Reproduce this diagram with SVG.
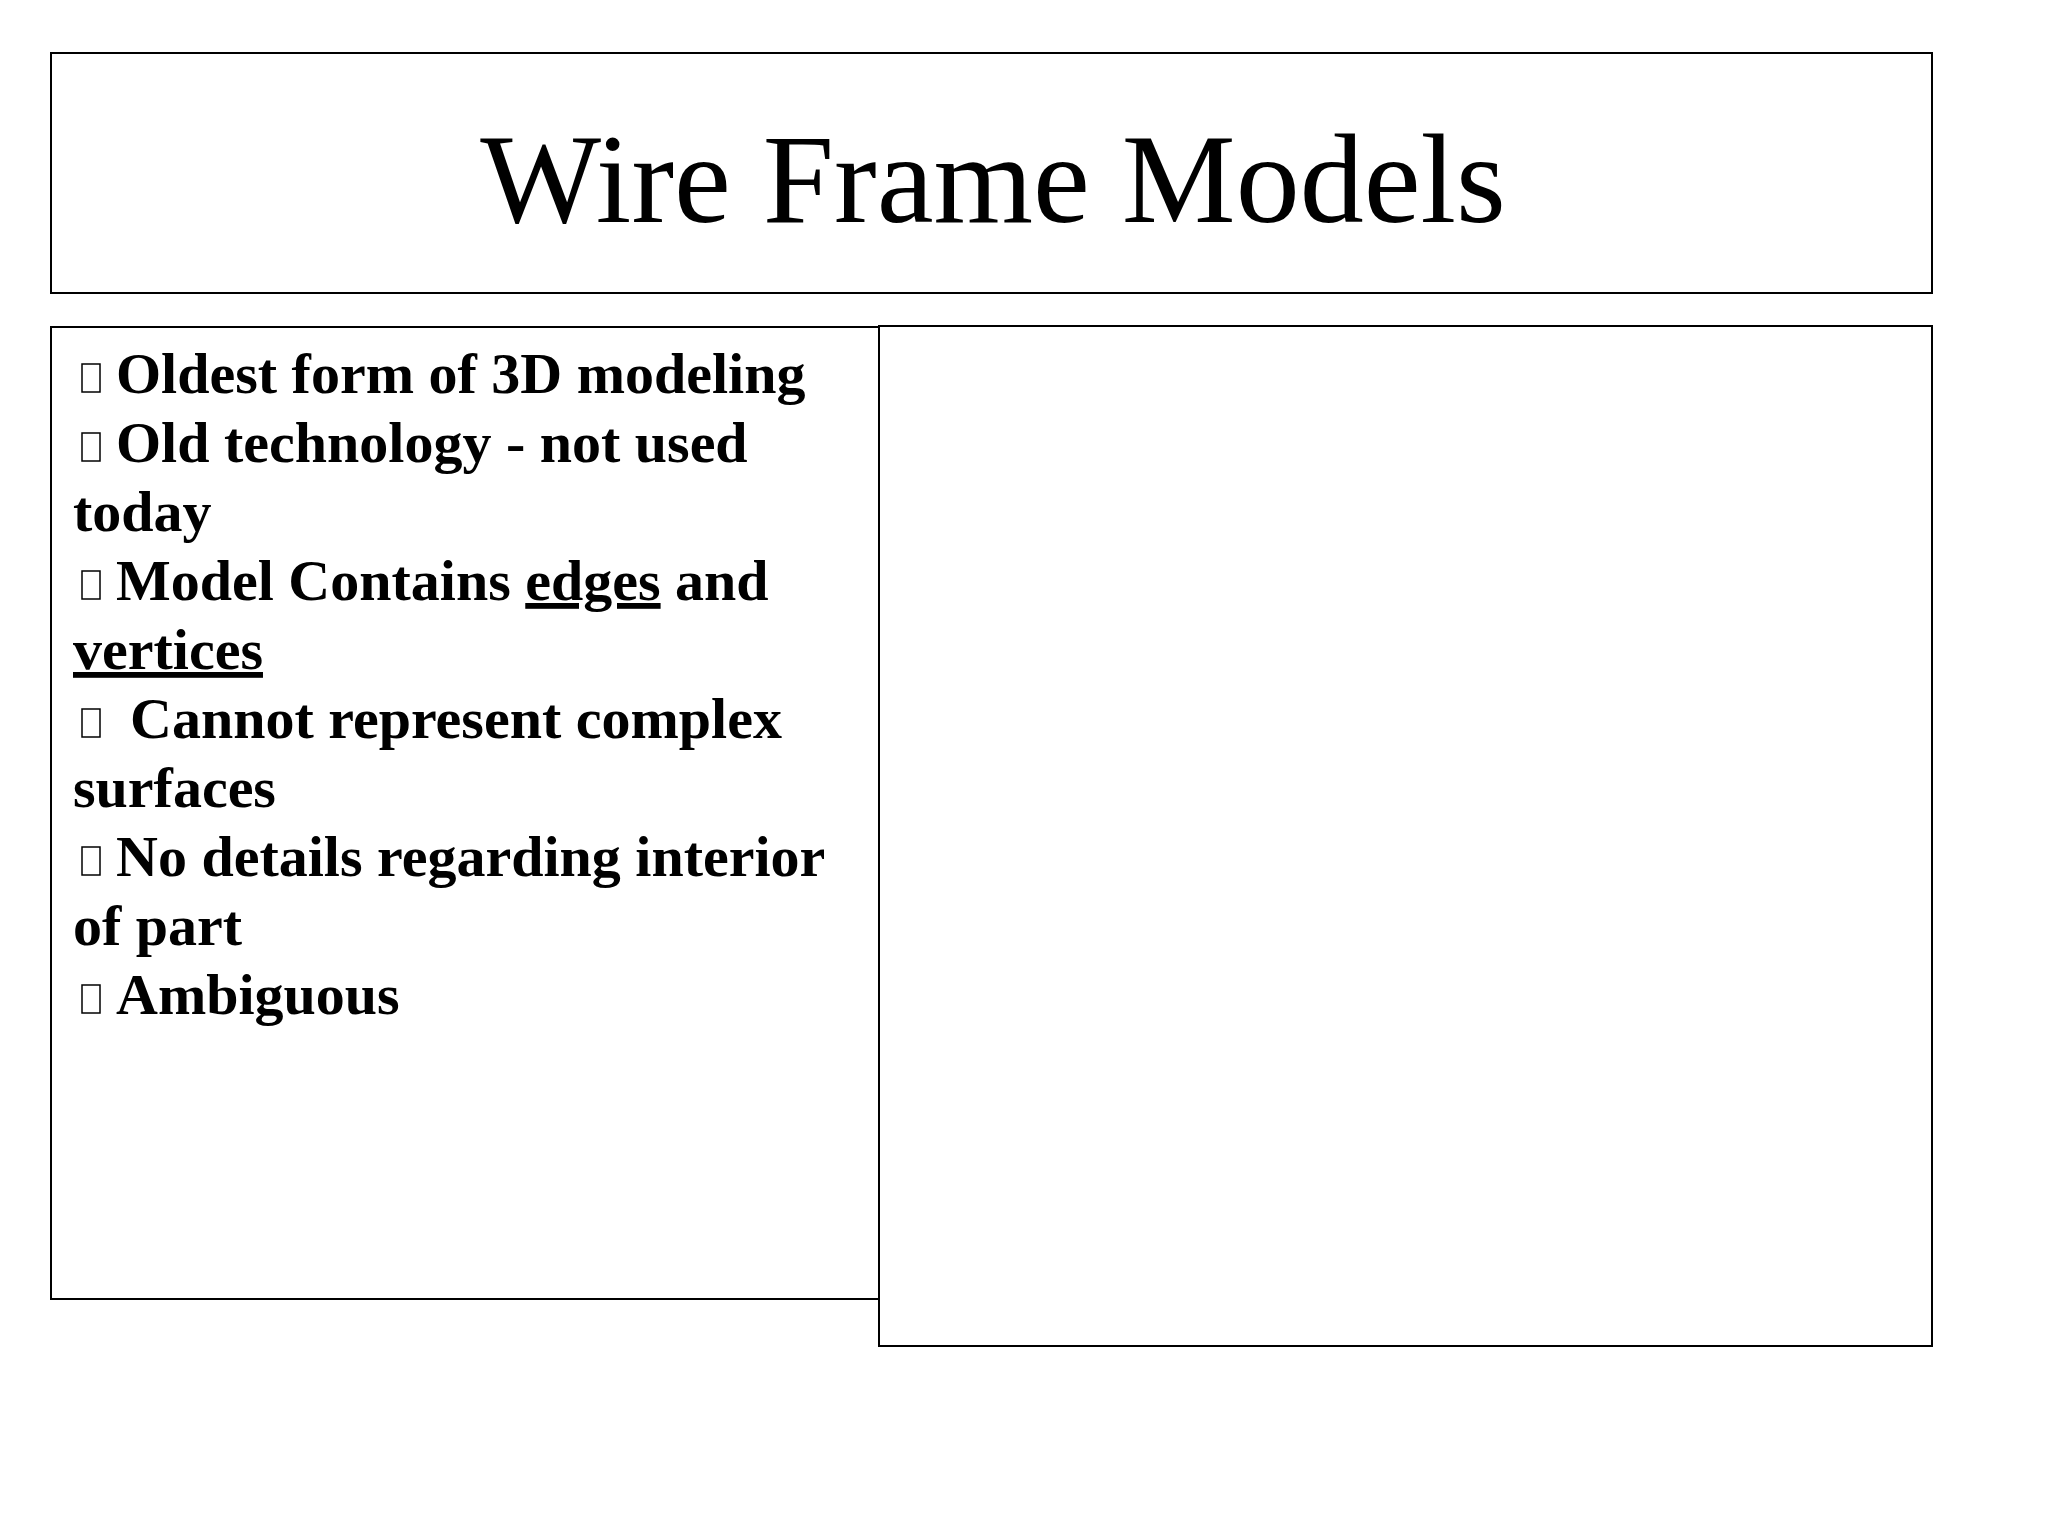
<svg xmlns="http://www.w3.org/2000/svg" width="2048" height="1536" viewBox="0 0 2048 1536">
<style>
.box{fill:#fff;stroke:#000;stroke-width:2}
.b{font-family:"Liberation Serif",serif;font-weight:bold;font-size:58px;fill:#000}
.bl{fill:none;stroke:#000;stroke-width:1.5}
.u{text-decoration:underline}
</style>
<rect width="2048" height="1536" fill="#fff"/>
<g id="title"><rect class="box" x="51" y="53" width="1881" height="240"/>
<text x="993" y="222" text-anchor="middle" font-family="Liberation Serif,serif" font-size="128">Wire Frame Models</text></g>
<g id="right"><rect class="box" x="879" y="326" width="1053" height="1020"/></g>
<g id="left"><rect class="box" x="51" y="327" width="828" height="972"/>
<rect class="bl" x="82" y="364" width="18" height="28"/>
<rect class="bl" x="82" y="433" width="18" height="28"/>
<rect class="bl" x="82" y="571" width="18" height="28"/>
<rect class="bl" x="82" y="709" width="18" height="28"/>
<rect class="bl" x="82" y="847" width="18" height="28"/>
<rect class="bl" x="82" y="985" width="18" height="28"/>
<text class="b" x="116" y="393">Oldest form of 3D modeling</text>
<text class="b" x="116" y="462">Old technology - not used</text>
<text class="b" x="73" y="531">today</text>
<text class="b" x="116" y="600">Model Contains <tspan class="u">edges</tspan> and</text>
<text class="b" x="73" y="669"><tspan class="u">vertices</tspan></text>
<text class="b" x="130" y="738">Cannot represent complex</text>
<text class="b" x="73" y="807">surfaces</text>
<text class="b" x="116" y="876">No details regarding interior</text>
<text class="b" x="73" y="945">of part</text>
<text class="b" x="116" y="1014">Ambiguous</text>
</g>
</svg>
